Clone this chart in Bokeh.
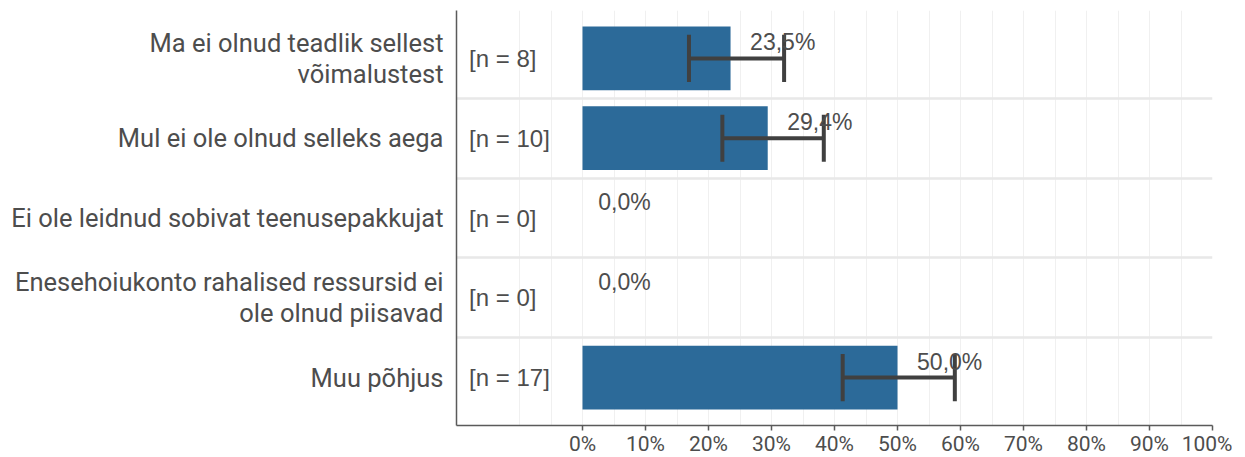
from bokeh.plotting import figure
from bokeh.models import Range1d, FixedTicker
from bokeh.core.properties import value
from bokeh.embed import file_html
from bokeh.resources import INLINE

# ---- data ----
categories = [
    "Ma ei olnud teadlik sellest\nvõimalustest",
    "Mul ei ole olnud selleks aega",
    "Ei ole leidnud sobivat teenusepakkujat",
    "Enesehoiukonto rahalised ressursid ei\nole olnud piisavad",
    "Muu põhjus",
]
n_counts = [8, 10, 0, 0, 17]
percent = [23.5, 29.4, 0.0, 0.0, 50.0]
ci_low = [16.9, 22.2, None, None, 41.3]
ci_high = [32.0, 38.3, None, None, 59.1]
x_ticks = [0, 10, 20, 30, 40, 50, 60, 70, 80, 90, 100]
x_tick_labels = ["0%", "10%", "20%", "30%", "40%", "50%", "60%", "70%", "80%", "90%", "100%"]

pos = list(range(1, len(categories) + 1))

TEXT = "#4D4D4D"
BAR = "#2C6A99"
ERR = "#404040"
AXIS = "#5A5A5A"

p = figure(
    frame_width=756, frame_height=415,
    min_border_left=456, min_border_right=20, min_border_top=10, min_border_bottom=30,
    x_range=Range1d(-20, 100), y_range=Range1d(5.6, 0.4),
    output_backend="svg", toolbar_location=None,
)
p.outline_line_color = None
p.background_fill_color = "white"

# grids
p.xgrid.ticker = FixedTicker(ticks=[v for v in range(-10, 101, 5)])
p.xgrid.grid_line_color = "#F0F0F0"
p.xgrid.grid_line_width = 1
p.ygrid.ticker = FixedTicker(ticks=[i + 0.5 for i in pos[:-1]])
p.ygrid.grid_line_color = "#E8E8E8"
p.ygrid.grid_line_width = 2.5

# bars
p.hbar(y=pos, left=0, right=percent, height=0.8, fill_color=BAR, line_color=None)

# error bars
ey = [pos[i] for i in range(len(pos)) if ci_low[i] is not None]
elo = [ci_low[i] for i in range(len(pos)) if ci_low[i] is not None]
ehi = [ci_high[i] for i in range(len(pos)) if ci_low[i] is not None]
p.segment(x0=elo, y0=ey, x1=ehi, y1=ey, line_color=ERR, line_width=4)
p.segment(x0=elo, y0=[y - 0.295 for y in ey], x1=elo, y1=[y + 0.295 for y in ey], line_color=ERR, line_width=4)
p.segment(x0=ehi, y0=[y - 0.295 for y in ey], x1=ehi, y1=[y + 0.295 for y in ey], line_color=ERR, line_width=4)

# value labels (hjust ~ -0.3 of text width)
lab_size = 23
def est_width(s, size):
    w = {",": 0.278, "%": 0.889, ".": 0.278}
    return sum(w.get(c, 0.556) for c in s) * size
val_labels = [("%.1f%%" % v).replace(".", ",") for v in percent]
offsets = [0.3 * est_width(s, lab_size) for s in val_labels]
p.text(x=percent, y=[y - 0.2 for y in pos], text=val_labels, x_offset=offsets,
       text_align="left", text_baseline="middle",
       text_font=value("Liberation Sans"), text_font_size="%dpx" % lab_size, text_color=TEXT)

# n labels
n_labels = ["[n = %d]" % n for n in n_counts]
p.text(x=[-18] * len(pos), y=pos, text=n_labels, text_align="left", text_baseline="middle",
       text_font=value("Liberation Sans"), text_font_size="24px", text_color=TEXT)

# axes
xa = p.xaxis[0]
xa.ticker = FixedTicker(ticks=x_ticks)
xa.major_label_overrides = {t: l for t, l in zip(x_ticks, x_tick_labels)}
xa.axis_line_color = AXIS
xa.axis_line_width = 1.5
xa.major_tick_line_color = AXIS
xa.major_tick_line_width = 1.5
xa.major_tick_out = 5
xa.major_tick_in = 0
xa.minor_tick_line_color = None
xa.major_label_text_font = "Roboto"
xa.major_label_text_font_size = "21px"
xa.major_label_text_color = TEXT
xa.major_label_standoff = 1

ya = p.yaxis[0]
ya.ticker = FixedTicker(ticks=pos)
ya.major_label_overrides = {t: l for t, l in zip(pos, categories)}
ya.axis_line_color = AXIS
ya.axis_line_width = 1.5
ya.major_tick_line_color = None
ya.minor_tick_line_color = None
ya.major_tick_out = 0
ya.major_tick_in = 0
ya.major_label_text_font = "Roboto"
ya.major_label_text_font_size = "25.5px"
ya.major_label_text_color = TEXT
ya.major_label_standoff = 13
ya.major_label_text_line_height = 1.04

open("out.html", "w").write(file_html(p, INLINE))
